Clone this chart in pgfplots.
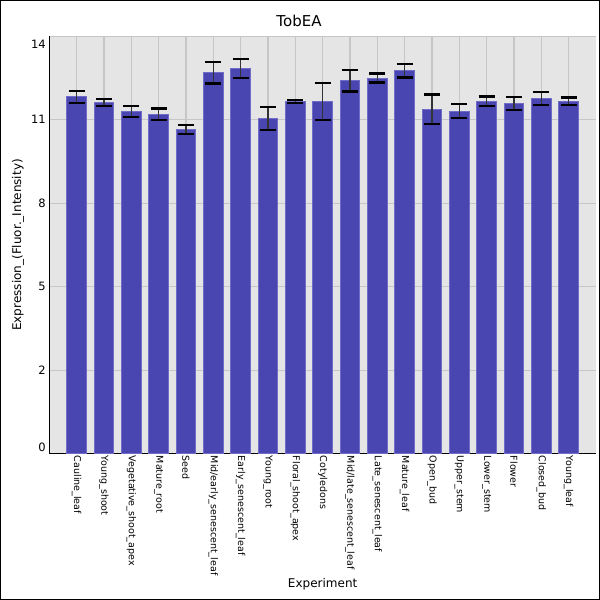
\documentclass[border=0pt]{standalone}
\usepackage{fontspec}
\setmainfont{DejaVu Sans}
\usepackage{pgfplots}
\usepackage{pgfplotstable}
\pgfplotsset{compat=1.18}
\definecolor{barfill}{RGB}{74,70,177}
\definecolor{baredge}{RGB}{112,108,200}
\definecolor{bgcol}{RGB}{229,229,229}
\definecolor{gridcol}{RGB}{198,198,198}
\pgfplotstableread{
x y err
1 11.97 0.20
2 11.78 0.11
3 11.47 0.19
4 11.38 0.20
5 10.87 0.16
6 12.78 0.36
7 12.92 0.33
8 11.24 0.39
9 11.81 0.06
10 11.81 0.63
11 12.51 0.36
12 12.60 0.15
13 12.85 0.23
14 11.55 0.50
15 11.49 0.23
16 11.82 0.16
17 11.74 0.22
18 11.91 0.22
19 11.82 0.13
}\datatable
\begin{document}
\begin{tikzpicture}[x=1pt,y=1pt]
\path[use as bounding box] (0,0) rectangle (600,600);
\draw[black, line width=1pt, fill=white] (0.5,0.5) rectangle (599.5,599.5);
\node[font=\fontsize{15}{18}\selectfont] at (299,579) {TobEA};
\begin{axis}[
  at={(49.3pt,146.3pt)}, anchor=south west,
  scale only axis, width=546.7pt, height=417.4pt,
  xmin=0, xmax=20, ymin=0, ymax=14,
  axis x line*=bottom, axis y line*=left,
  axis line style={-, black, line width=1pt},
  axis background/.style={fill=bgcol},
  xmajorgrids, ymajorgrids,
  grid style={gridcol, line width=1.1pt},
  major tick length=0pt,
  xtick={1,...,19},
  xticklabels={Cauline\_leaf,Young\_shoot,Vegetative\_shoot\_apex,Mature\_root,Seed,Mid/early\_senescent\_leaf,Early\_senescent\_leaf,Young\_root,Floral\_shoot\_apex,Cotyledons,Mid/late\_senescent\_leaf,Late\_senescent\_leaf,Mature\_leaf,Open\_bud,Upper\_stem,Lower\_stem,Flower,Closed\_bud,Young\_leaf},
  xticklabel style={rotate=-90, anchor=west, font=\fontsize{9.5}{11}\selectfont, inner sep=2pt},
  ytick={0,2.8,5.6,8.4,11.2,14},
  yticklabels={\raisebox{6.5pt}[\height][\depth]{0},2,5,8,11,\raisebox{-8.5pt}[\height][\depth]{14}},
  yticklabel style={font=\fontsize{11.5}{13}\selectfont},
  /pgf/number format/assume math mode=true,
  xlabel={Experiment},
  xlabel style={at={(axis description cs:0.5,-0.3122)}, anchor=center, font=\fontsize{12}{14}\selectfont},
  ylabel={Expression\_(Fluor.\_Intensity)},
  ylabel style={at={(axis description cs:-0.0573,0.5)}, anchor=center, font=\fontsize{12}{14}\selectfont},
]
\addplot[ybar, bar width=0.72, fill=barfill, draw=baredge, line width=0.8pt,
  error bars/.cd, y dir=both, y explicit,
  error bar style={line width=1.3pt, black!80},
  error mark options={rotate=90, mark size=8pt, line width=2.2pt, black}]
  table[x=x, y=y, y error=err] {\datatable};
\end{axis}
\end{tikzpicture}
\end{document}
